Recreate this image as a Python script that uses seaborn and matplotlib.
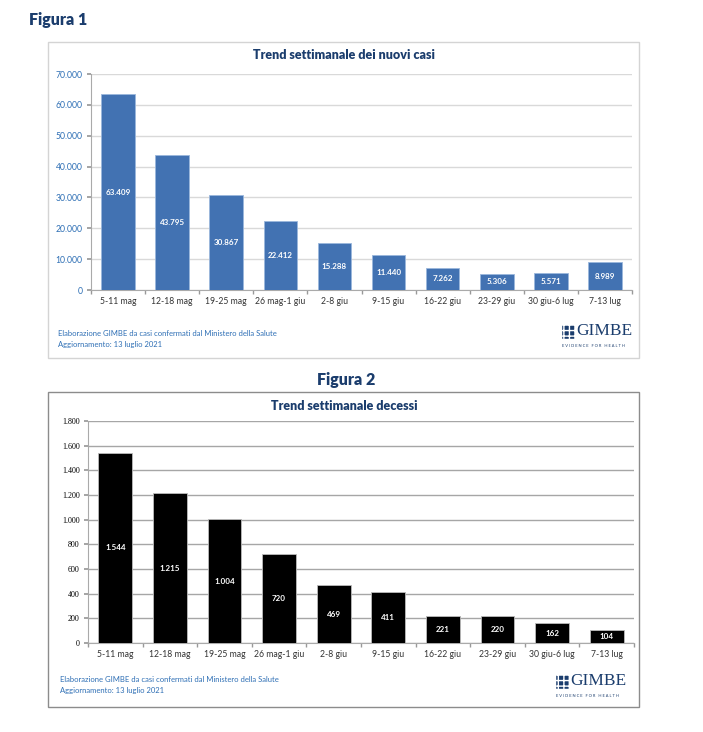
import numpy as np
import pandas as pd
import matplotlib
matplotlib.use("Agg")
import matplotlib.pyplot as plt
import seaborn as sns
from matplotlib.patches import Rectangle

# Data
weeks = ["5-11 mag", "12-18 mag", "19-25 mag", "26 mag-1 giu", "2-8 giu",
         "9-15 giu", "16-22 giu", "23-29 giu", "30 giu-6 lug", "7-13 lug"]
new_cases = [63409, 43795, 30867, 22412, 15288, 11440, 7262, 5306, 5571, 8989]
deaths = [1544, 1215, 1004, 720, 469, 411, 221, 220, 162, 104]

cases_ticks = list(range(0, 70001, 10000))
deaths_ticks = list(range(0, 1801, 200))

title_1 = "Trend settimanale dei nuovi casi"
title_2 = "Trend settimanale decessi"
source_text = "Elaborazione GIMBE da casi confermati dal Ministero della Salute"
update_text = "Aggiornamento: 13 luglio 2021"

NAVY = "#1b3d6d"
BLUE_TXT = "#2e6fb5"
BAR_BLUE = "#4272b2"

sns.set_theme(style="white")
plt.rcParams["font.family"] = ["Lato", "DejaVu Sans"]

W, H = 703, 732
fig = plt.figure(figsize=(W / 100, H / 100), dpi=100)


def fx(px):
    return px / W


def fy(py):
    return 1 - py / H


def it_fmt(v):
    return f"{v:,}".replace(",", ".")


def draw_box(x0, y0, x1, y1, color):
    fig.patches.append(Rectangle((fx(x0), fy(y1)), fx(x1 - x0), (y1 - y0) / H,
                                 transform=fig.transFigure, fill=False,
                                 edgecolor=color, lw=1.0, zorder=0))


def draw_logo(x, y):
    # small grid icon + GIMBE wordmark
    fig.patches.append(Rectangle((fx(x), fy(y + 7)), fx(13), 14 / H,
                                 transform=fig.transFigure, facecolor=NAVY,
                                 edgecolor="white", hatch="+++", lw=0.3))
    fig.text(fx(x + 14), fy(y - 1), "GIMBE", family="Liberation Serif",
             fontsize=12.5, color=NAVY, va="center", ha="left")
    fig.text(fx(x), fy(y + 14), "E V I D E N C E   F O R   H E A L T H",
             fontsize=2.9, color=NAVY, va="center", ha="left")


def draw_footer(x, y):
    fig.text(fx(x), fy(y), source_text, fontsize=5.5, color=BLUE_TXT, va="center")
    fig.text(fx(x), fy(y + 11), update_text, fontsize=5.5, color=BLUE_TXT, va="center")


def bar_chart(ax, values, ticks, color, edge, grid_color, tick_color, tick_font, tick_size):
    df = pd.DataFrame({"week": weeks, "value": values})
    sns.barplot(data=df, x="week", y="value", color=color, width=0.62,
                edgecolor=edge, linewidth=0.6, saturation=1, ax=ax, zorder=3)
    ax.set_xlim(-0.5, len(weeks) - 0.5)
    ax.set_ylim(ticks[0], ticks[-1])
    ax.set_yticks(ticks)
    ax.set_yticklabels([it_fmt(t) for t in ticks], fontsize=tick_size,
                       color=tick_color, family=tick_font)
    ax.set_xticks(range(len(weeks)))
    ax.set_xticklabels(weeks, fontsize=6.2, color="#333333")
    ax.tick_params(axis="x", length=0, pad=5)
    ax.tick_params(axis="y", length=3, color="#999999", pad=3, left=True)
    ax.set_xticks(np.arange(-0.5, len(weeks) + 0.5, 1), minor=True)
    ax.tick_params(axis="x", which="minor", length=3, color="#999999", bottom=True)
    ax.set_xlabel("")
    ax.set_ylabel("")
    ax.grid(axis="y", color=grid_color, lw=1.0, zorder=0)
    ax.set_axisbelow(True)
    for s in ["top", "right"]:
        ax.spines[s].set_visible(False)
    for s in ["left", "bottom"]:
        ax.spines[s].set_color("#aaaaaa")
        ax.spines[s].set_linewidth(0.8)
    for i, v in enumerate(values):
        ax.text(i, v / 2, it_fmt(v), ha="center", va="center", color="white",
                fontsize=5.8, fontweight="bold", zorder=4)


# Figura 1
fig.text(fx(29), fy(20), "Figura 1", fontsize=11.5, fontweight="heavy", color=NAVY,
         va="center", ha="left")
draw_box(48, 42, 639, 358, "#d4d4d4")
fig.text(fx(344), fy(55), title_1, fontsize=9, fontweight="heavy", color=NAVY,
         ha="center", va="center")
ax1 = fig.add_axes([fx(91), fy(290), fx(632 - 91), (290 - 74) / H])
bar_chart(ax1, new_cases, cases_ticks, BAR_BLUE, "#9bb7dc", "#d9d9d9",
          BLUE_TXT, "Lato", 6.2)
draw_footer(58, 333)
draw_logo(562, 332)

# Figura 2
fig.text(fx(346), fy(380), "Figura 2", fontsize=11.5, fontweight="heavy", color=NAVY,
         va="center", ha="center")
draw_box(48, 392, 639, 707, "#8c8c8c")
fig.text(fx(344), fy(406), title_2, fontsize=9, fontweight="heavy", color=NAVY,
         ha="center", va="center")
ax2 = fig.add_axes([fx(88), fy(643), fx(634 - 88), (643 - 421) / H])
bar_chart(ax2, deaths, deaths_ticks, "black", "#bbbbbb", "#a6a6a6",
          "black", "Liberation Serif", 5.8)
draw_footer(60, 680)
draw_logo(556, 682)

fig.savefig("out.png", dpi=100)
